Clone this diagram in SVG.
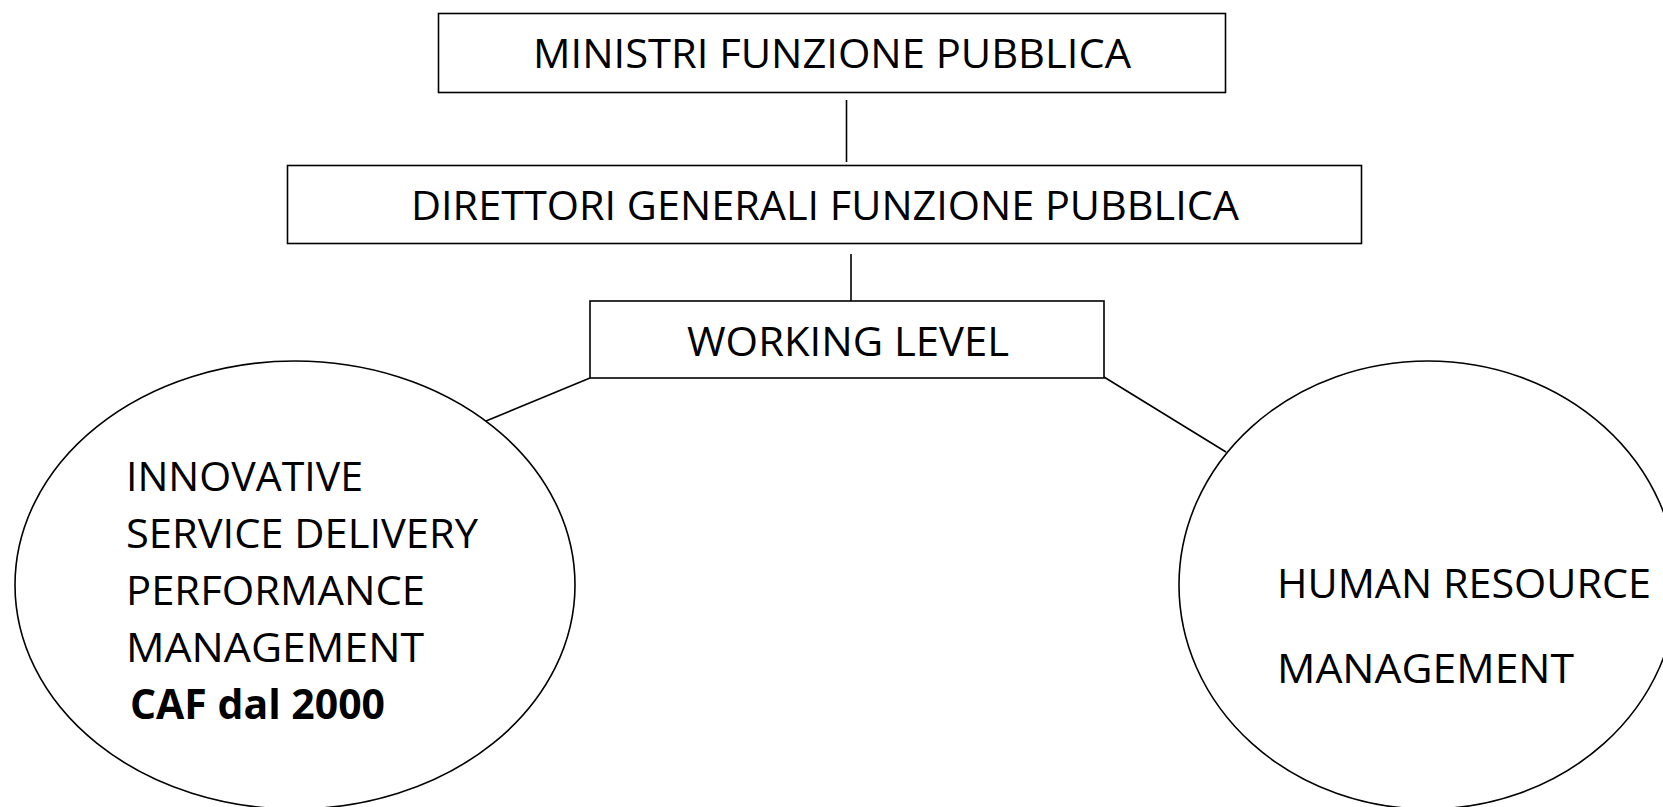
<svg xmlns="http://www.w3.org/2000/svg" width="1663" height="807" viewBox="0 0 1663 807">
<style>
.box{fill:#fff;stroke:#000;stroke-width:1.6}
.ell{fill:#fff;stroke:#000;stroke-width:1.6}
.con{stroke:#000;stroke-width:1.6;fill:none}
text{font-family:"Open Sans","Noto Sans","Liberation Sans",sans-serif;font-size:41px;fill:#000}
.b{font-weight:bold}
</style>
<rect width="1663" height="807" fill="#fff"/>
<g id="connectors">
<line class="con" x1="846.5" y1="100" x2="846.5" y2="162"/>
<line class="con" x1="851" y1="254" x2="851" y2="301"/>
<line class="con" x1="590" y1="378" x2="486" y2="421"/>
<line class="con" x1="1104" y1="377" x2="1226" y2="452"/>
</g>
<g id="ministri">
<rect class="box" x="438.5" y="13.5" width="787" height="79"/>
<text x="533" y="68" textLength="598" lengthAdjust="spacingAndGlyphs">MINISTRI FUNZIONE PUBBLICA</text>
</g>
<g id="direttori">
<rect class="box" x="287.5" y="165.5" width="1074" height="78"/>
<text x="411" y="220" textLength="828" lengthAdjust="spacingAndGlyphs">DIRETTORI GENERALI FUNZIONE PUBBLICA</text>
</g>
<g id="working">
<rect class="box" x="590" y="301" width="514" height="77"/>
<text x="687" y="356" textLength="322" lengthAdjust="spacingAndGlyphs">WORKING LEVEL</text>
</g>
<g id="innovative">
<ellipse class="ell" cx="295" cy="585" rx="280" ry="224"/>
<text x="126" y="491" textLength="237" lengthAdjust="spacingAndGlyphs">INNOVATIVE</text>
<text x="126" y="548" textLength="352" lengthAdjust="spacingAndGlyphs">SERVICE DELIVERY</text>
<text x="126" y="605" textLength="299" lengthAdjust="spacingAndGlyphs">PERFORMANCE</text>
<text x="126" y="662" textLength="298" lengthAdjust="spacingAndGlyphs">MANAGEMENT</text>
<text class="b" x="130" y="719" textLength="255" lengthAdjust="spacingAndGlyphs">CAF dal 2000</text>
</g>
<g id="hrm">
<ellipse class="ell" cx="1428" cy="585" rx="249" ry="224"/>
<text x="1277" y="598" textLength="374" lengthAdjust="spacingAndGlyphs">HUMAN RESOURCE</text>
<text x="1277" y="683" textLength="297" lengthAdjust="spacingAndGlyphs">MANAGEMENT</text>
</g>
</svg>
